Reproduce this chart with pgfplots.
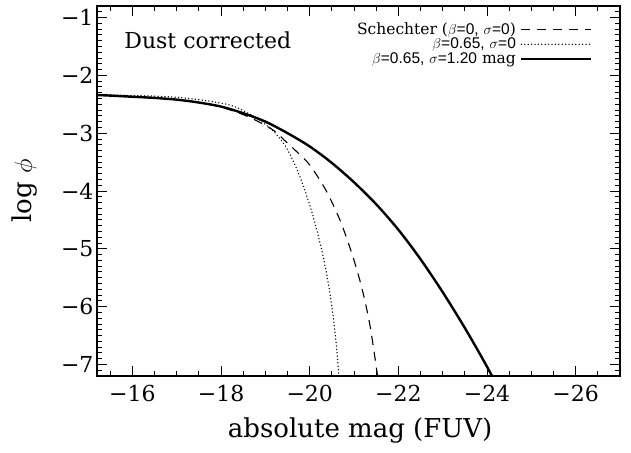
\documentclass[border=0pt]{standalone}
\usepackage{fontspec}
\setmainfont{DejaVu Serif}
\newfontfamily\hv{Liberation Sans}
\usepackage{pgfplots}
\pgfplotsset{compat=1.18}

\begin{document}
\begin{tikzpicture}
\useasboundingbox (-97pt,-76pt) rectangle (534pt,376pt);
\begin{axis}[
    scale only axis,
    width=523pt, height=370pt,
    x dir=reverse,
    xmin=-27, xmax=-15.2,
    ymin=-7.2, ymax=-0.8,
    xtick={-16,-18,-20,-22,-24,-26},
    xticklabels={−16,−18,−20,−22,−24,−26},
    minor xtick={-27,-26.5,...,-15.5},
    ytick={-7,-6,-5,-4,-3,-2,-1},
    yticklabels={−7,−6,−5,−4,−3,−2,−1},
    minor ytick={-7.2,-7.1,...,-0.8},
    tick align=inside,
    major tick length=10pt, minor tick length=5pt,
    axis line style={line width=1.4pt},
    every tick/.style={black, line width=0.9pt},
    ticklabel style={font=\fontsize{22}{24}\selectfont},
    xticklabel style={yshift=-6pt},
    xlabel={absolute mag (FUV)},
    ylabel={log $\phi$},
    label style={font=\fontsize{26}{29}\selectfont},
    xlabel style={at={(axis description cs:0.503,-0.146)}, anchor=center},
    ylabel style={at={(axis description cs:-0.138,0.5)}, anchor=center},
    legend plot pos=right,
    legend cell align=right,
    legend image code/.code={\draw[#1] (0pt,0pt) -- (70pt,0pt);},
    legend style={draw=none, fill=none, at={(axis description cs:0.948,0.956)},
        anchor=north east, inner sep=0pt, column sep=4pt, row sep=1.5pt,
        nodes={inner sep=0.3pt},
        font=\fontsize{15.5}{17}\selectfont},
]
% Schechter (beta=0, sigma=0)
\addplot[black, line width=1.1pt, dash pattern=on 9pt off 7pt, smooth] coordinates {
(-15.2,-2.34) (-16,-2.37) (-17,-2.42) (-17.5,-2.47) (-18,-2.55) (-18.5,-2.68)
(-18.84,-2.80) (-19.2,-2.96) (-19.44,-3.13) (-19.72,-3.33) (-20,-3.55)
(-20.36,-3.98) (-20.68,-4.50) (-20.95,-5.08) (-21.17,-5.66) (-21.36,-6.33)
(-21.53,-7.2) (-21.6,-7.6)};
\addlegendentry{Schechter ($\beta${\hv=0,} $\sigma${\hv=0})}
% beta=0.65, sigma=0
\addplot[black, line width=1.5pt, line cap=round, dash pattern=on 0pt off 3.4pt, smooth] coordinates {
(-15.2,-2.33) (-16,-2.35) (-16.5,-2.36) (-17,-2.38) (-17.5,-2.42) (-18,-2.48)
(-18.3,-2.54) (-18.6,-2.65) (-18.9,-2.79) (-19.2,-2.98) (-19.45,-3.22)
(-19.65,-3.52) (-19.86,-3.92) (-20.08,-4.45) (-20.27,-5.02) (-20.42,-5.60)
(-20.53,-6.18) (-20.61,-6.75) (-20.66,-7.21) (-20.7,-7.5)};
\addlegendentry{$\beta${\hv=0.65,} $\sigma${\hv=0}}
% beta=0.65, sigma=1.20 mag
\addplot[black, line width=2.4pt, smooth] coordinates {
(-15.2,-2.34) (-15.5,-2.35) (-16,-2.37) (-16.5,-2.39) (-17,-2.42) (-17.5,-2.47)
(-18,-2.54) (-18.5,-2.655) (-19,-2.80) (-19.5,-3.00) (-20,-3.23) (-20.5,-3.515)
(-21,-3.85) (-21.5,-4.23) (-22,-4.67) (-22.5,-5.18) (-23,-5.75) (-23.5,-6.37)
(-24,-7.04) (-24.5,-7.77)};
\addlegendentry{$\beta${\hv=0.65,} $\sigma${\hv=1.20} mag}
\node[anchor=west, inner sep=0pt, font=\fontsize{22}{25}\selectfont]
    at (rel axis cs:0.052,0.908) {Dust corrected};
\end{axis}
\end{tikzpicture}
\end{document}
